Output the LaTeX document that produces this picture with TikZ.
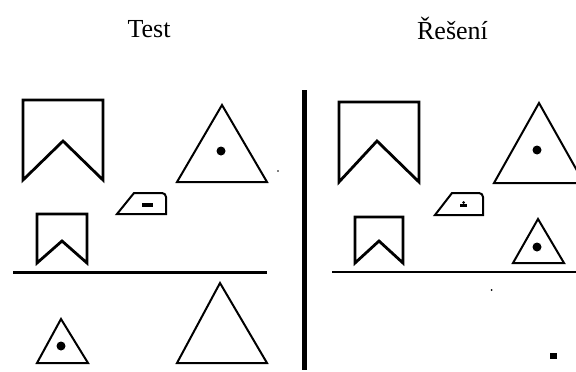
\documentclass[tikz,border=0pt]{standalone}
\usepackage{fontspec}
\setmainfont{Liberation Serif}
\begin{document}
\begin{tikzpicture}[x=1pt,y=-1pt,
  shapeline/.style={draw=black,line width=2pt,line join=miter},
  thickshape/.style={draw=black,line width=2.8pt,line join=miter},
  blob/.style={fill=black},
  title/.style={font=\fontsize{26}{30}\selectfont,anchor=base,inner sep=0pt}]
\useasboundingbox (0,0) rectangle (576,372);
% titles
\node[title] (test) at (149,37) {Test};
\node[title] (reseni) at (452.5,39) {Řešení};
% ---------- left panel ----------
% big banner
\draw[thickshape] (23,100) -- (103,100) -- (103,180) -- (63,141) -- (23,180) -- cycle;
% big triangle with dot
\draw[shapeline] (222,105) -- (267,182) -- (177,182) -- cycle;
\fill[blob] (221,151) circle (4.5);
\fill[blob] (278,171) circle (0.9);
% iron
\draw[shapeline] (117,214) -- (134,193) -- (162,193) to[out=0,in=90] (166,197) -- (166,214) -- cycle;
\fill[blob] (142,203) rectangle (153,207);
% small banner
\draw[thickshape] (37,214) -- (87,214) -- (87,263) -- (62,241) -- (37,263) -- cycle;
% divider
\draw[line width=3pt] (13,272) -- (267,272);
% small triangle with dot
\draw[shapeline] (61,319) -- (88,363) -- (37,363) -- cycle;
\fill[blob] (61,346) circle (4.5);
% big triangle
\draw[shapeline] (220,283) -- (267,363) -- (177,363) -- cycle;
% ---------- right panel ----------
\draw[line width=5pt] (304,90) -- (304,370);
% big banner
\draw[thickshape] (339,102) -- (419,102) -- (419,182) -- (377,141) -- (339,182) -- cycle;
% big triangle with dot
\draw[shapeline] (539,103) -- (584,183) -- (494,183) -- cycle;
\fill[blob] (537,150) circle (4.5);
% iron
\draw[shapeline] (435,215) -- (452,193) -- (479,193) to[out=0,in=90] (483,197) -- (483,215) -- cycle;
\fill[blob] (460,203.5) rectangle (467,206.5);
\fill[blob] (463.5,202.5) circle (1.5);
% small banner
\draw[thickshape] (355,217) -- (403,217) -- (403,263) -- (379,241) -- (355,263) -- cycle;
% small triangle with dot
\draw[shapeline] (538,219) -- (564,263) -- (513,263) -- cycle;
\fill[blob] (537,247) circle (4.5);
% divider
\draw[line width=2pt] (332,272) -- (576,272);
% specks
\fill[blob] (491.5,290) circle (1);
\fill[blob] (550,353) rectangle (557,359);
\end{tikzpicture}
\end{document}
